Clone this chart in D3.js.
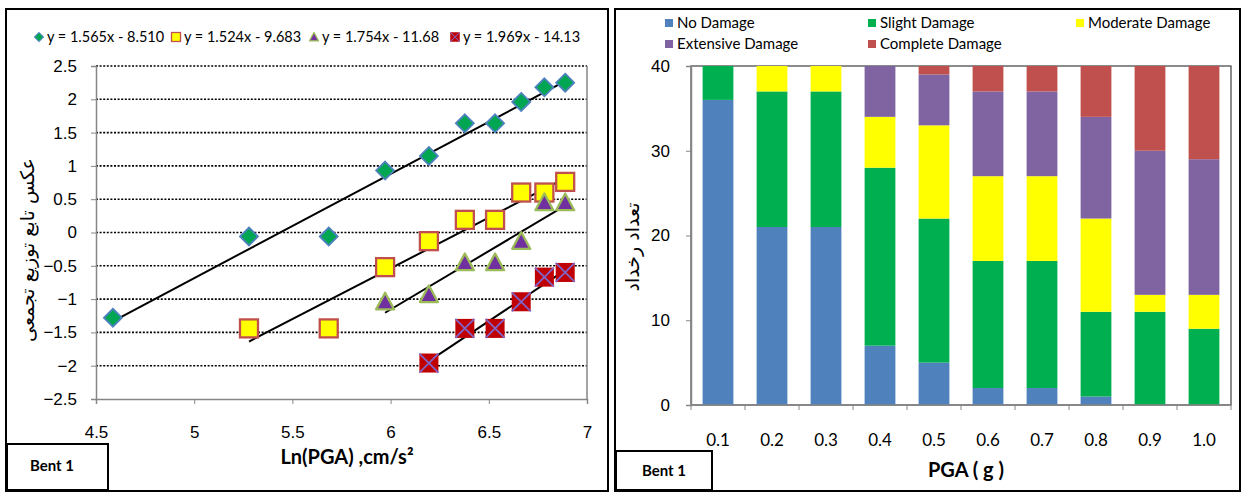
<!DOCTYPE html>
<html>
<head>
<meta charset="utf-8">
<script src="https://cdn.jsdelivr.net/npm/d3@7"></script>
<style>
    body { margin: 0; background: #fff; }
    svg { display: block; font-family: Lato, "Open Sans", sans-serif; }
    .arabic { font-family: "DejaVu Sans", sans-serif; }
</style>
</head>
<body>
<div id="chart"></div>
<script>
// ---- left chart: probit of cumulative damage vs ln(PGA)
const lnPga = [4.586, 5.279, 5.685, 5.972, 6.195, 6.378, 6.532, 6.665, 6.783, 6.889];
const slightY = [-1.28, -0.06, -0.06, 0.93, 1.15, 1.64, 1.64, 1.96, 2.18, 2.25];
const moderateY = [null, -1.44, -1.44, -0.52, -0.13, 0.19, 0.19, 0.60, 0.60, 0.76];
const extensiveY = [null, null, null, -1.04, -0.93, -0.45, -0.45, -0.13, 0.45, 0.45];
const completeY = [null, null, null, null, -1.96, -1.44, -1.44, -1.04, -0.67, -0.60];
const trendSlopes = [1.565, 1.524, 1.754, 1.969];
const trendIntercepts = [-8.510, -9.683, -11.68, -14.13];
const trendLabels = ['y = 1.565x - 8.510', 'y = 1.524x - 9.683', 'y = 1.754x - 11.68', 'y = 1.969x - 14.13'];
const xTicksLeft = [4.5, 5, 5.5, 6, 6.5, 7];
const yTicksLeft = [-2.5, -2, -1.5, -1, -0.5, 0, 0.5, 1, 1.5, 2, 2.5];

// ---- right chart: damage state counts per PGA
const pgaCats = ['0.1', '0.2', '0.3', '0.4', '0.5', '0.6', '0.7', '0.8', '0.9', '1.0'];
const damageNames = ['No Damage', 'Slight Damage', 'Moderate Damage', 'Extensive Damage', 'Complete Damage'];
const noDamage = [36, 21, 21, 7, 5, 2, 2, 1, 0, 0];
const slightDamage = [4, 16, 16, 21, 17, 15, 15, 10, 11, 9];
const moderateDamage = [0, 3, 3, 6, 11, 10, 10, 11, 2, 4];
const extensiveDamage = [0, 0, 0, 6, 6, 10, 10, 12, 17, 16];
const completeDamage = [0, 0, 0, 0, 1, 3, 3, 6, 10, 11];
const yTicksRight = [0, 10, 20, 30, 40];

const damageColors = ['#4F81BD', '#00B050', '#FFFF00', '#8064A2', '#C0504D'];

const svg = d3.select('#chart').append('svg')
    .attr('width', 1244)
    .attr('height', 493);

// panel frames
svg.append('rect').attr('x', 6).attr('y', 9).attr('width', 602).attr('height', 482)
    .attr('fill', 'none').attr('stroke', '#000').attr('stroke-width', 2);
svg.append('rect').attr('x', 615).attr('y', 9).attr('width', 625).attr('height', 482)
    .attr('fill', 'none').attr('stroke', '#000').attr('stroke-width', 2);

drawLeft();
drawRight();

function drawLeft() {
    const x = d3.scaleLinear().domain([4.5, 7]).range([96, 587]);
    const y = d3.scaleLinear().domain([-2.5, 2.5]).range([399, 66]);
    const g = svg.append('g');

    // gridlines
    g.selectAll('.grid')
        .data(yTicksLeft.filter(d => d > -2.5))
        .enter().append('line')
        .attr('x1', x(4.5)).attr('x2', x(7))
        .attr('y1', d => y(d)).attr('y2', d => y(d))
        .attr('stroke', '#000')
        .attr('stroke-width', 1.6)
        .attr('stroke-dasharray', '2,1.6');

    // plot border
    g.append('line').attr('x1', x(7)).attr('x2', x(7)).attr('y1', y(2.5)).attr('y2', y(-2.5))
        .attr('stroke', '#868686').attr('stroke-width', 1.5);

    // y axis
    const yAxis = g.append('g')
        .attr('transform', `translate(${x(4.5)},0)`)
        .call(d3.axisLeft(y).tickValues(yTicksLeft).tickSize(5).tickPadding(14).tickFormat(d3.format('')));
    yAxis.select('.domain').attr('stroke', '#868686').attr('stroke-width', 1.5);
    yAxis.selectAll('.tick line').attr('stroke', '#868686');
    yAxis.selectAll('text').style('font-size', '17px').attr('fill', '#000');

    // x axis at bottom (-2.5)
    const xAxis = g.append('g')
        .attr('transform', `translate(0,${y(-2.5)})`)
        .call(d3.axisBottom(x).tickValues(xTicksLeft).tickSize(5).tickPadding(22).tickFormat(d3.format('')));
    xAxis.select('.domain').attr('stroke', '#868686').attr('stroke-width', 1.5);
    xAxis.selectAll('.tick line').attr('stroke', '#868686');
    xAxis.selectAll('text').style('font-size', '17px').attr('fill', '#000');

    // trend lines
    const seriesY = [slightY, moderateY, extensiveY, completeY];
    seriesY.forEach((ys, i) => {
        const xs = lnPga.filter((d, j) => ys[j] !== null);
        const x0 = d3.min(xs), x1 = d3.max(xs);
        g.append('line')
            .attr('x1', x(x0)).attr('y1', y(trendSlopes[i] * x0 + trendIntercepts[i]))
            .attr('x2', x(x1)).attr('y2', y(trendSlopes[i] * x1 + trendIntercepts[i]))
            .attr('stroke', '#000')
            .attr('stroke-width', 2);
    });

    // markers
    seriesY.forEach((ys, i) => {
        const pts = lnPga.map((d, j) => ({x: d, y: ys[j]})).filter(d => d.y !== null);
        pts.forEach(p => drawMarker(g, i, x(p.x), y(p.y), 1));
    });

    // legend
    const legendX = [39, 176, 314, 455];
    trendLabels.forEach((label, i) => {
        drawMarker(g, i, legendX[i], 37, 0.5);
        g.append('text')
            .attr('x', legendX[i] + 8)
            .attr('y', 42)
            .style('font-size', '14.5px')
            .text(label);
    });

    // axis titles
    g.append('text')
        .attr('x', 347)
        .attr('y', 464)
        .attr('text-anchor', 'middle')
        .style('font-size', '20px')
        .style('font-weight', 'bold')
        .text('Ln(PGA) ,cm/s²');

    g.append('text')
        .attr('class', 'arabic')
        .attr('transform', 'translate(34,250) rotate(-90)')
        .attr('text-anchor', 'middle')
        .style('font-size', '19px')
        .text('عکس تابع توزیع تجمعی');

    // Bent 1 box
    g.append('rect').attr('x', 7).attr('y', 444).attr('width', 101).attr('height', 46)
        .attr('fill', '#fff').attr('stroke', '#000').attr('stroke-width', 2);
    g.append('text')
        .attr('x', 52).attr('y', 471)
        .attr('text-anchor', 'middle')
        .style('font-size', '15px')
        .style('font-weight', 'bold')
        .text('Bent 1');
}

function drawMarker(g, i, cx, cy, k) {
    if (i === 0) {
        const r = 9 * k;
        g.append('path')
            .attr('d', `M${cx},${cy - r}L${cx + r},${cy}L${cx},${cy + r}L${cx - r},${cy}Z`)
            .attr('fill', '#00A651')
            .attr('stroke', '#4F81BD')
            .attr('stroke-width', 1.5 * k + 0.3);
    } else if (i === 1) {
        const s = 18 * k;
        g.append('rect')
            .attr('x', cx - s / 2).attr('y', cy - s / 2)
            .attr('width', s).attr('height', s)
            .attr('fill', '#FFFF00')
            .attr('stroke', '#C0504D')
            .attr('stroke-width', 2 * k + 0.3);
    } else if (i === 2) {
        const w = 9 * k;
        g.append('path')
            .attr('d', `M${cx},${cy - w}L${cx + w},${cy + w * 0.85}L${cx - w},${cy + w * 0.85}Z`)
            .attr('fill', '#7030A0')
            .attr('stroke', '#9BBB59')
            .attr('stroke-width', 2 * k + 0.3)
            .attr('stroke-linejoin', 'round');
    } else {
        const s = 19 * k;
        g.append('rect')
            .attr('x', cx - s / 2).attr('y', cy - s / 2)
            .attr('width', s).attr('height', s)
            .attr('fill', '#C00000');
        g.append('path')
            .attr('d', `M${cx - s / 2},${cy - s / 2}L${cx + s / 2},${cy + s / 2}M${cx + s / 2},${cy - s / 2}L${cx - s / 2},${cy + s / 2}`)
            .attr('stroke', '#8064C8')
            .attr('stroke-width', 1.5 * k + 0.3);
    }
}

function drawRight() {
    const x = d3.scaleBand().domain(pgaCats).range([691, 1231]).paddingInner(0.43).paddingOuter(0.215);
    const y = d3.scaleLinear().domain([0, 40]).range([405, 66]);
    const g = svg.append('g');

    const rows = pgaCats.map((c, i) => ({
        cat: c,
        'No Damage': noDamage[i],
        'Slight Damage': slightDamage[i],
        'Moderate Damage': moderateDamage[i],
        'Extensive Damage': extensiveDamage[i],
        'Complete Damage': completeDamage[i]
    }));
    const stacked = d3.stack().keys(damageNames)(rows);

    // plot border
    g.append('rect')
        .attr('x', 691).attr('y', y(40))
        .attr('width', 1231 - 691).attr('height', y(0) - y(40))
        .attr('fill', 'none')
        .attr('stroke', '#404040')
        .attr('stroke-width', 1.2);

    stacked.forEach((layer, i) => {
        g.selectAll(null)
            .data(layer.filter(d => d[1] > d[0]))
            .enter().append('rect')
            .attr('x', d => x(d.data.cat))
            .attr('y', d => y(d[1]))
            .attr('width', x.bandwidth())
            .attr('height', d => y(d[0]) - y(d[1]))
            .attr('fill', damageColors[i]);
    });

    // y axis
    const yAxis = g.append('g')
        .attr('transform', 'translate(691,0)')
        .call(d3.axisLeft(y).tickValues(yTicksRight).tickSize(5).tickPadding(16));
    yAxis.select('.domain').attr('stroke', '#868686').attr('stroke-width', 1.5);
    yAxis.selectAll('.tick line').attr('stroke', '#868686');
    yAxis.selectAll('text').style('font-size', '17px').attr('fill', '#000');

    // x axis: line, ticks between categories, labels
    g.append('line')
        .attr('x1', 691).attr('x2', 1231).attr('y1', y(0)).attr('y2', y(0))
        .attr('stroke', '#868686').attr('stroke-width', 1.5);
    const step = x.step();
    g.selectAll('.xtick')
        .data(d3.range(pgaCats.length + 1))
        .enter().append('line')
        .attr('x1', d => 691 + d * step).attr('x2', d => 691 + d * step)
        .attr('y1', y(0)).attr('y2', y(0) + 5)
        .attr('stroke', '#868686');
    g.selectAll('.xlabel')
        .data(pgaCats)
        .enter().append('text')
        .attr('x', d => x(d) + x.bandwidth() / 2)
        .attr('y', 446)
        .attr('text-anchor', 'middle')
        .style('font-size', '17px')
        .text(d => d);

    // legend
    const legendPos = [[669, 23], [872, 23], [1080, 23], [669, 44], [872, 44]];
    damageNames.forEach((name, i) => {
        g.append('rect')
            .attr('x', legendPos[i][0] - 4).attr('y', legendPos[i][1] - 4)
            .attr('width', 8).attr('height', 8)
            .attr('fill', damageColors[i]);
        g.append('text')
            .attr('x', legendPos[i][0] + 8)
            .attr('y', legendPos[i][1] + 5)
            .style('font-size', '15px')
            .text(name);
    });

    // axis titles
    g.append('text')
        .attr('x', 966)
        .attr('y', 477)
        .attr('text-anchor', 'middle')
        .style('font-size', '20px')
        .style('font-weight', 'bold')
        .text('PGA ( g )');

    g.append('text')
        .attr('class', 'arabic')
        .attr('transform', 'translate(639,247) rotate(-90)')
        .attr('text-anchor', 'middle')
        .style('font-size', '19px')
        .text('تعداد رخداد');

    // Bent 1 box
    g.append('rect').attr('x', 616).attr('y', 451).attr('width', 96).attr('height', 39)
        .attr('fill', '#fff').attr('stroke', '#000').attr('stroke-width', 2);
    g.append('text')
        .attr('x', 664).attr('y', 476)
        .attr('text-anchor', 'middle')
        .style('font-size', '15px')
        .style('font-weight', 'bold')
        .text('Bent 1');
}
</script>
</body>
</html>
